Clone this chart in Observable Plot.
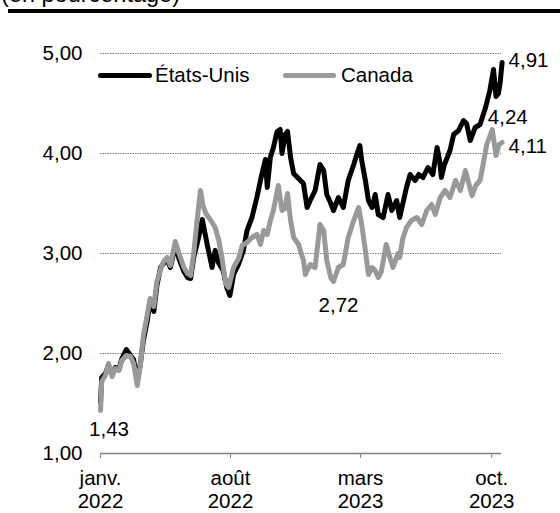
<!DOCTYPE html>
<html>
<head>
<meta charset="utf-8">
<script src="https://cdn.jsdelivr.net/npm/d3@7"></script>
<script src="https://cdn.jsdelivr.net/npm/@observablehq/plot@0.6"></script>
<style>
  html, body { margin: 0; padding: 0; background: #fff; }
  body { width: 560px; height: 513px; position: relative; overflow: hidden;
         font-family: "Liberation Sans", Arial, sans-serif; }
  #chart { position: absolute; left: 0; top: 0; }
  #title { position: absolute; left: 1px; top: -17px; font-size: 23.5px; line-height: 1; white-space: nowrap; color: #000; }
  #rule { position: absolute; left: 8px; top: 9px; width: 552px; height: 4px; background: #000; }
  .sw { position: absolute; height: 5px; border-radius: 2.5px; }
  .lg { position: absolute; font-size: 20.5px; line-height: 1; white-space: nowrap; color: #000; }
</style>
</head>
<body>
<div id="chart"></div>
<div id="title">(en pourcentage)</div>
<div id="rule"></div>
<div class="sw" style="left:98px;top:72.5px;width:54px;background:#000"></div>
<div class="lg" style="left:155px;top:64.5px">États-Unis</div>
<div class="sw" style="left:283px;top:72.5px;width:53px;background:#999"></div>
<div class="lg" style="left:341px;top:64.5px">Canada</div>
<script>
// ---- Data (10-year yields, %) ----
const usDates = ["2022-01-01","2022-01-03","2022-01-09","2022-01-14","2022-01-20","2022-01-25","2022-01-31","2022-02-05","2022-02-12","2022-02-19","2022-02-24","2022-03-02","2022-03-07","2022-03-12","2022-03-18","2022-03-23","2022-03-29","2022-04-03","2022-04-09","2022-04-14","2022-04-20","2022-04-25","2022-05-03","2022-05-09","2022-05-17","2022-05-23","2022-05-28","2022-06-02","2022-06-10","2022-06-16","2022-06-24","2022-07-02","2022-07-07","2022-07-13","2022-07-20","2022-07-26","2022-07-31","2022-08-06","2022-08-14","2022-08-22","2022-08-28","2022-09-05","2022-09-13","2022-09-21","2022-09-27","2022-09-30","2022-10-05","2022-10-10","2022-10-16","2022-10-21","2022-10-24","2022-10-29","2022-11-02","2022-11-07","2022-11-12","2022-11-20","2022-11-28","2022-12-04","2022-12-09","2022-12-17","2022-12-25","2022-12-31","2023-01-05","2023-01-11","2023-01-16","2023-01-24","2023-02-01","2023-02-09","2023-02-18","2023-02-23","2023-02-28","2023-03-03","2023-03-09","2023-03-14","2023-03-20","2023-03-25","2023-03-30","2023-04-07","2023-04-15","2023-04-21","2023-04-29","2023-05-04","2023-05-15","2023-05-21","2023-05-29","2023-06-04","2023-06-11","2023-06-19","2023-06-27","2023-07-04","2023-07-08","2023-07-11","2023-07-16","2023-07-25","2023-07-31","2023-08-08","2023-08-16","2023-08-21","2023-08-27","2023-09-04","2023-09-12","2023-09-21","2023-09-28","2023-10-04","2023-10-08","2023-10-12","2023-10-15","2023-10-18"];
const usValues = [1.51,1.76,1.80,1.88,1.79,1.86,1.84,1.95,2.04,1.98,1.94,1.73,1.90,2.13,2.32,2.52,2.42,2.68,2.86,2.90,2.94,2.86,3.08,2.95,2.82,2.76,2.75,2.96,3.16,3.34,3.09,2.86,3.03,2.90,2.83,2.66,2.58,2.79,2.89,3.03,3.23,3.36,3.56,3.79,3.94,3.66,3.96,4.06,4.22,4.24,4.00,4.19,4.22,3.96,3.80,3.75,3.70,3.46,3.53,3.63,3.89,3.83,3.59,3.51,3.43,3.56,3.46,3.73,3.89,3.99,4.08,3.93,3.73,3.53,3.46,3.59,3.39,3.36,3.59,3.43,3.53,3.36,3.66,3.79,3.73,3.79,3.76,3.86,3.79,4.06,3.93,3.76,3.89,4.03,4.19,4.23,4.33,4.30,4.13,4.26,4.29,4.46,4.63,4.84,4.57,4.60,4.72,4.91];

const caDates = ["2022-01-01","2022-01-03","2022-01-09","2022-01-14","2022-01-20","2022-01-25","2022-01-31","2022-02-05","2022-02-12","2022-02-19","2022-02-24","2022-03-02","2022-03-07","2022-03-12","2022-03-18","2022-03-23","2022-03-29","2022-04-03","2022-04-09","2022-04-14","2022-04-20","2022-04-25","2022-05-03","2022-05-09","2022-05-17","2022-05-23","2022-05-28","2022-06-02","2022-06-07","2022-06-13","2022-06-17","2022-06-22","2022-06-30","2022-07-07","2022-07-13","2022-07-18","2022-07-24","2022-07-29","2022-08-06","2022-08-15","2022-08-20","2022-08-28","2022-09-05","2022-09-13","2022-09-19","2022-09-24","2022-09-30","2022-10-05","2022-10-10","2022-10-18","2022-10-24","2022-10-29","2022-11-02","2022-11-07","2022-11-12","2022-11-20","2022-11-28","2022-12-01","2022-12-09","2022-12-17","2022-12-25","2022-12-31","2023-01-05","2023-01-12","2023-01-16","2023-01-24","2023-02-01","2023-02-09","2023-02-18","2023-02-26","2023-03-03","2023-03-09","2023-03-14","2023-03-20","2023-03-25","2023-03-30","2023-04-04","2023-04-12","2023-04-18","2023-04-23","2023-05-01","2023-05-04","2023-05-09","2023-05-15","2023-05-23","2023-06-01","2023-06-09","2023-06-17","2023-06-25","2023-07-01","2023-07-09","2023-07-17","2023-07-25","2023-08-03","2023-08-11","2023-08-19","2023-08-30","2023-09-05","2023-09-12","2023-09-17","2023-09-23","2023-10-02","2023-10-08","2023-10-13","2023-10-18"];
const caValues = [1.43,1.72,1.78,1.90,1.77,1.85,1.83,1.93,1.98,1.97,1.90,1.68,1.88,2.18,2.38,2.55,2.47,2.72,2.84,2.92,2.96,2.88,3.12,3.00,2.86,2.80,2.78,3.00,3.30,3.63,3.48,3.40,3.33,3.26,3.13,2.96,2.70,2.66,2.86,2.96,3.08,3.11,3.16,3.19,3.09,3.23,3.19,3.33,3.43,3.68,3.43,3.45,3.60,3.33,3.16,3.09,2.93,2.79,2.89,2.86,3.29,3.23,2.93,2.75,2.72,2.86,2.89,3.16,3.33,3.46,3.29,3.03,2.79,2.86,2.83,2.76,2.82,3.09,2.96,2.86,3.00,2.96,3.15,3.26,3.33,3.36,3.29,3.43,3.49,3.39,3.56,3.63,3.56,3.73,3.63,3.83,3.58,3.68,3.73,3.89,4.09,4.24,3.98,4.09,4.11];

const xTickDates = ["2022-01-01","2022-08-01","2023-03-01","2023-10-01"];
const xTickLabels = ["janv.\n2022","août\n2022","mars\n2023","oct.\n2023"];
const yTicks = [1, 2, 3, 4, 5];
const gridValues = [2, 3, 4, 5];
const xDomain = ["2022-01-01", "2023-10-17"];

// ---- Build tables ----
const us = usDates.map((d, i) => ({date: new Date(d), value: usValues[i]}));
const ca = caDates.map((d, i) => ({date: new Date(d), value: caValues[i]}));
const fmt = v => v.toFixed(2).replace(".", ",");
const xTicks = xTickDates.map(d => new Date(d));
const xLabel = new Map(xTicks.map((d, i) => [+d, xTickLabels[i]]));

const caMax = ca.reduce((a, b) => (b.value > a.value ? b : a));
const caMin = ca.filter(d => d.date >= new Date("2023-01-01")).reduce((a, b) => (b.value < a.value ? b : a));

const font = '"Liberation Sans", Arial, sans-serif';

const chart = Plot.plot({
  width: 560,
  height: 513,
  marginLeft: 100,
  marginRight: 59,
  marginTop: 53,
  marginBottom: 60,
  style: {fontFamily: font, fontSize: "20.5px", color: "#000", background: "transparent", overflow: "visible"},
  x: {type: "utc", domain: xDomain.map(d => new Date(d)), label: null},
  y: {domain: [1, 5], label: null},
  marks: [
    Plot.ruleY(gridValues, {stroke: "#808080", strokeWidth: 1, strokeDasharray: "1.5,1"}),
    Plot.ruleY([1], {stroke: "#808080", strokeWidth: 1.3}),
    Plot.line(us, {x: "date", y: "value", stroke: "#000", strokeWidth: 5, strokeLinejoin: "round", strokeLinecap: "round"}),
    Plot.line(ca, {x: "date", y: "value", stroke: "#999999", strokeWidth: 5, strokeLinejoin: "round", strokeLinecap: "round"}),
    Plot.text([us[us.length - 1]], {x: "date", y: "value", text: d => fmt(d.value), textAnchor: "start", dx: 6.5, dy: -2, fill: "#000"}),
    Plot.text([ca[ca.length - 1]], {x: "date", y: "value", text: d => fmt(d.value), textAnchor: "start", dx: 6.5, dy: 4, fill: "#000"}),
    Plot.text([caMax], {x: "date", y: "value", text: d => fmt(d.value), textAnchor: "start", dx: -4.5, dy: -12, fill: "#000"}),
    Plot.text([ca[0]], {x: "date", y: "value", text: d => fmt(d.value), textAnchor: "middle", dx: 8.5, dy: 19, fill: "#000"}),
    Plot.text([caMin], {x: "date", y: "value", text: d => fmt(d.value), textAnchor: "middle", dx: 5, dy: 23.5, fill: "#000"}),
    Plot.axisY({ticks: yTicks, tickSize: 0, tickPadding: 18, tickFormat: fmt, label: null, fill: "#000"}),
    Plot.axisX({ticks: xTicks, tickSize: 5, tickPadding: 10, tickFormat: d => xLabel.get(+d), lineHeight: 1.14, label: null, stroke: "#808080", fill: "#000"})
  ]
});
document.getElementById("chart").appendChild(chart);
</script>
</body>
</html>
